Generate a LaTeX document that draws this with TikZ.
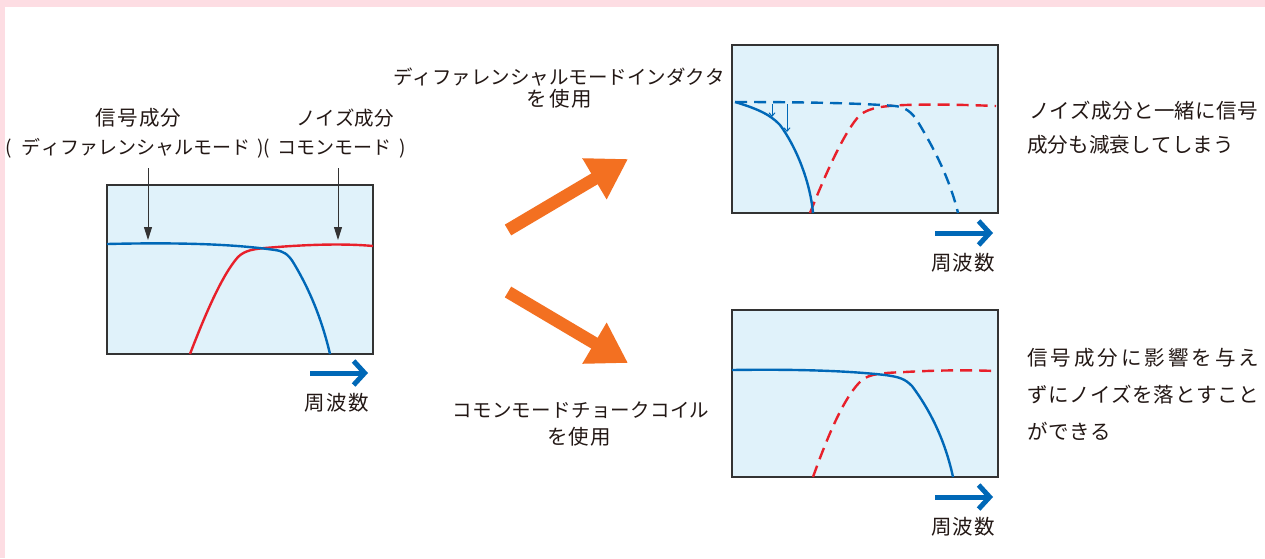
\documentclass[tikz,border=0pt]{standalone}
\usepackage{fontspec}
\setmainfont{Noto Sans CJK JP}
\usetikzlibrary{arrows.meta}
\definecolor{pinkbg}{RGB}{253,221,227}
\definecolor{boxfill}{RGB}{224,242,250}
\definecolor{boxc}{RGB}{51,51,51}
\definecolor{cblue}{RGB}{0,104,183}
\definecolor{cred}{RGB}{232,32,42}
\definecolor{corange}{RGB}{243,112,33}
\definecolor{textc}{RGB}{35,24,21}
\makeatletter
\newcommand\spreadtxt[2]{\makebox[#1][s]{\let\sp@first\relax\@tfor\sp@c:=#2\do{\ifx\sp@first\relax\else\hfil\fi\sp@c\let\sp@first\@empty}}}
\makeatother
\tikzset{
  fsz/.style={font=\fontsize{#1}{22pt}\selectfont},
  txt/.style={inner sep=0pt, outer sep=0pt, fsz=20.5pt, text=textc, anchor=base},
  txtl/.style={txt, anchor=base west},
  plotbox/.style={draw=boxc, line width=1.2pt, fill=boxfill, inner sep=0pt, outer sep=0pt, anchor=north west},
  bluecurve/.style={cblue, line width=2.4pt},
  redcurve/.style={cred, line width=2.4pt},
  dashcurve/.style={dash pattern=on 12pt off 7pt},
  freqarrow/.style={cblue, line width=5pt, -{Straight Barb[length=11pt,width=24pt]}},
  bigarrow/.style={corange, line width=12.5pt, -{Triangle[length=39pt,width=45pt]}},
  ptr/.style={boxc, line width=0.9pt, -{Triangle[length=13pt,width=8pt]}},
  smallptr/.style={cblue, line width=1pt, -{Straight Barb[length=3.5pt,width=6pt]}}
}
\begin{document}
\begin{tikzpicture}[x=1pt,y=-1pt]
\useasboundingbox (0,0) rectangle (1265,558);
\fill[pinkbg] (0,0) rectangle (1265,558);
\fill[white] (5,7) rectangle (1265,558);

% plot boxes
\node[plotbox, minimum width=266pt, minimum height=169pt] (bL) at (107,185) {};
\node[plotbox, minimum width=266pt, minimum height=168pt] (bT) at (732,45) {};
\node[plotbox, minimum width=266pt, minimum height=167pt] (bB) at (732,310) {};

% left plot curves
\draw[redcurve] (190,354) .. controls (205,315) and (222,275) .. (238,257) .. controls (245,250) and (255,249) .. (265,248) .. controls (300,245) and (340,243) .. (373,246);
\draw[bluecurve] (107,244) .. controls (190,242) and (240,245) .. (275,250) .. controls (283,251) and (288,254) .. (293,262) .. controls (310,290) and (322,320) .. (330,354);

% top right plot curves
\draw[redcurve, dashcurve] (810,213) .. controls (825,175) and (845,130) .. (860,115) .. controls (870,107) and (885,106) .. (905,105) .. controls (940,104) and (970,105) .. (996,106);
\draw[bluecurve, dashcurve] (735,102) .. controls (800,102) and (860,103) .. (895,106) .. controls (905,107) and (912,112) .. (918,122) .. controls (935,150) and (950,180) .. (958,213);
\draw[bluecurve] (735,102) .. controls (755,108) and (770,114) .. (780,125) .. controls (795,145) and (810,180) .. (813,213);
\coordinate (sa1) at (772,104);
\coordinate (sa1e) at (772,117);
\coordinate (sa2) at (787,104);
\coordinate (sa2e) at (787,132);
\draw[smallptr] (sa1) -- (sa1e);
\draw[smallptr] (sa2) -- (sa2e);

% bottom right plot curves
\draw[redcurve, dashcurve] (813,477) .. controls (828,435) and (845,395) .. (862,380) .. controls (870,374) and (880,373) .. (905,372) .. controls (940,370) and (970,370) .. (996,371);
\draw[bluecurve] (732,370) .. controls (800,369) and (850,371) .. (885,375) .. controls (900,377) and (905,379) .. (912,386) .. controls (930,410) and (945,440) .. (953,477);

% pointer arrows (left)
\coordinate (p1s) at (148,168);
\coordinate (p1e) at (148,240);
\coordinate (p2s) at (338,168);
\coordinate (p2e) at (338,240);
\draw[ptr] (p1s) -- (p1e);
\draw[ptr] (p2s) -- (p2e);

% frequency arrows
\coordinate (fa1s) at (310,373);
\coordinate (fa1e) at (368,373);
\coordinate (fa2s) at (935,233);
\coordinate (fa2e) at (993,233);
\coordinate (fa3s) at (935,497);
\coordinate (fa3e) at (993,497);
\draw[freqarrow] (fa1s) -- (fa1e);
\draw[freqarrow] (fa2s) -- (fa2e);
\draw[freqarrow] (fa3s) -- (fa3e);

% orange arrows
\coordinate (oa1s) at (508,230);
\coordinate (oa1e) at (628,159);
\coordinate (oa2s) at (508,292);
\coordinate (oa2e) at (628,363);
\draw[bigarrow] (oa1s) -- (oa1e);
\draw[bigarrow] (oa2s) -- (oa2e);

% texts
\node[txt] (sig) at (138.5,125.5) {\spreadtxt{86pt}{信号成分}};
\node[txt, fsz=19.5pt] (noi) at (345,125.5) {\spreadtxt{98pt}{ノイズ成分}};
\node[txtl, fsz=19pt] (modes) at (6,154.5) {\makebox[6pt]{(}\hspace{10pt}\spreadtxt{229pt}{ディファレンシャルモード}\hspace{7pt}\makebox[6pt]{)}\makebox[6pt]{(}\hspace{8pt}\spreadtxt{114pt}{コモンモード}\hspace{8pt}\makebox[6pt]{)}};

\node[txt, fsz=19.5pt] (tdm1) at (559,84.5) {\spreadtxt{332pt}{ディファレンシャルモードインダクタ}};
\node[txt] (tdm2) at (559.5,106.5) {\spreadtxt{66pt}{を使用}};
\node[txt, fsz=19.5pt] (tcm1) at (581,417.5) {\spreadtxt{257pt}{コモンモードチョークコイル}};
\node[txt] (tcm2) at (579,444) {\spreadtxt{64pt}{を使用}};

\node[txt] (f1) at (336.5,410.5) {\spreadtxt{65pt}{周波数}};
\node[txt] (f2) at (963,270.5) {\spreadtxt{64pt}{周波数}};
\node[txt] (f3) at (963,534.5) {\spreadtxt{64pt}{周波数}};

\node[txtl] (r1a) at (1029,118.5) {\spreadtxt{229pt}{ノイズ成分と一緒に信号}};
\node[txtl] (r1b) at (1027,152.5) {\spreadtxt{207pt}{成分も減衰してしまう}};
\node[txtl] (r2a) at (1027,365.5) {\spreadtxt{232pt}{信号成分に影響を与え}};
\node[txtl] (r2b) at (1027,402.5) {\spreadtxt{232pt}{ずにノイズを落とすこと}};
\node[txtl] (r2c) at (1027,439.5) {\spreadtxt{84pt}{ができる}};
\end{tikzpicture}
\end{document}
